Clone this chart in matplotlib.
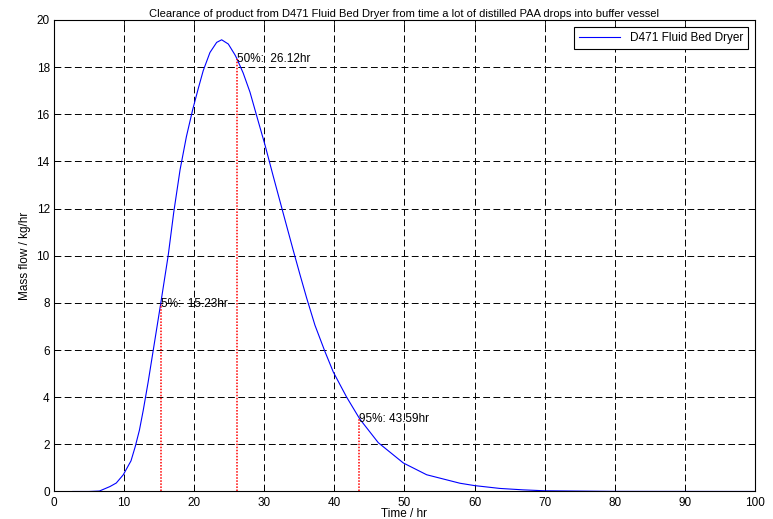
import numpy as np
import matplotlib.pyplot as plt

plt.rcParams.update({"font.family": ["Liberation Sans", "DejaVu Sans"], "font.size": 8.5})

# mass flow curve
time_hr = [2.7, 5.0, 6.5, 8.0, 8.9, 9.9, 11.0, 11.6, 12.2, 12.75, 13.45, 14.15,
           15.2, 16.3, 17.1, 18.0, 18.9, 19.8, 20.6, 21.3, 22.26, 23.22, 23.93,
           24.88, 25.83, 26.07, 27.0, 27.97, 29.15, 30.11, 31.29, 32.72, 34.15,
           35.1, 36.06, 37.24, 38.67, 39.85, 41.76, 43.64, 46.27, 49.84, 53.17,
           57.92, 60.0, 63.6, 66.9, 70.0, 80.0, 100.0]
mass_flow = [0.0, 0.0, 0.02, 0.21, 0.36, 0.71, 1.3, 1.9, 2.6, 3.45, 4.65, 5.95,
             7.9, 10.0, 11.85, 13.65, 15.05, 16.2, 17.1, 17.85, 18.62, 19.05, 19.16,
             18.98, 18.52, 18.38, 17.75, 16.94, 15.7, 14.7, 13.37, 11.79, 10.22,
             9.2, 8.2, 7.05, 5.93, 5.07, 4.0, 3.07, 2.07, 1.21, 0.71,
             0.35, 0.25, 0.13, 0.07, 0.03, 0.005, 0.0]

# clearance markers
pct_times = [15.23, 26.12, 43.59]
pct_labels = ["5%:  15.23hr", "50%:  26.12hr", "95%: 43.59hr"]

fig = plt.figure(figsize=(7.73, 5.19), dpi=100)
ax = fig.add_axes([0.0697, 0.053, 0.907, 0.9085])

ax.plot(time_hr, mass_flow, color="blue", linewidth=0.8, label="D471 Fluid Bed Dryer")

for t, lab in zip(pct_times, pct_labels):
    h = np.interp(t, time_hr, mass_flow)
    ax.plot([t, t], [0, h], color="red", linestyle=(0, (1, 1)), linewidth=1.1)
    ax.text(t, h, lab, ha="left", va="center", fontsize=8.5)

ax.set_xlim(0, 100)
ax.set_ylim(0, 20)
ax.set_xticks(np.arange(0, 101, 10))
ax.set_yticks(np.arange(0, 21, 2))
ax.grid(True, color="black", linestyle=(0, (7, 3.5)), linewidth=0.7)
ax.tick_params(direction="in", top=True, right=True, length=4, width=0.6)
ax.tick_params(axis="x", pad=4)
ax.tick_params(axis="y", pad=3)
for s in ax.spines.values():
    s.set_linewidth(0.8)

ax.set_title("Clearance of product from D471 Fluid Bed Dryer from time a lot of distilled PAA drops into buffer vessel",
             fontsize=8, pad=2)
ax.set_xlabel("Time / hr", fontsize=8.5)
ax.xaxis.set_label_coords(0.5, -0.0345)
ax.set_ylabel("Mass flow / kg/hr", fontsize=8.5)
ax.yaxis.set_label_coords(-0.032, 0.5)

leg = ax.legend(loc="upper right", fancybox=False, framealpha=1, edgecolor="black",
                handlelength=3.5, borderaxespad=0.6, fontsize=8.5)
leg.get_frame().set_linewidth(0.8)

fig.savefig("out.png", dpi=100)
